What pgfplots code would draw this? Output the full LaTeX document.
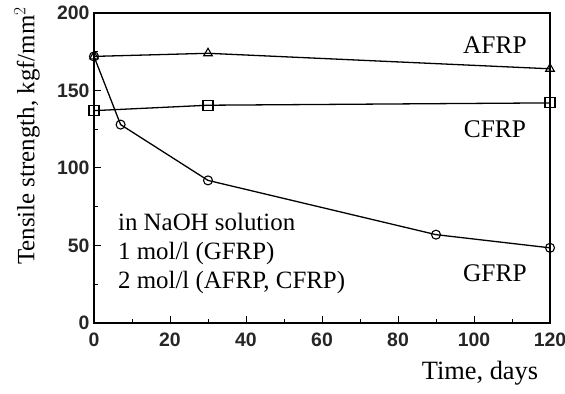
\documentclass[border=0pt]{standalone}
\usepackage{fontspec}
\setmainfont{Liberation Serif}
\newfontfamily\tickfont{Liberation Sans}
\usepackage{pgfplots}
\pgfplotsset{compat=1.18}
\begin{document}
\begin{tikzpicture}
\useasboundingbox (0,0) rectangle (565bp,394bp);
\begin{axis}[
  at={(94bp,71bp)}, anchor=south west,
  scale only axis, width=456bp, height=310bp,
  xmin=0, xmax=120, ymin=0, ymax=200,
  xtick={0,20,...,120}, ytick={0,50,...,200},
  minor xtick={10,30,...,110}, minor ytick={25,75,...,175},
  tick align=inside, xtick pos=bottom, ytick pos=left,
  major tick length=7bp, minor tick length=4bp,
  every tick/.style={black, line width=1pt},
  axis line style={line width=1.6pt},
  /pgf/number format/assume math mode=true,
  ticklabel style={font=\tickfont\bfseries\fontsize{19.5}{19.5}\selectfont, text=black!85},
  yticklabel style={xshift=-1bp},
  xticklabel style={yshift=-6bp},
  every axis plot/.style={black, line width=1.3pt, mark size=5bp, mark options={solid, fill=white, line width=1.1pt}},
  clip=false,
]
\addplot[mark=triangle] coordinates {(0,172) (30,174) (120,164)};
\addplot[mark=square, mark size=5bp] coordinates {(0,137) (30,140.5) (120,142)};
\addplot[mark=o, mark size=4.5bp] coordinates {(0,172) (7,128) (30,92) (90,57) (120,48.5)};
\node[font=\fontsize{25.5}{25.5}\selectfont, anchor=center] at (axis cs:105.5,179) {AFRP};
\node[font=\fontsize{25.5}{25.5}\selectfont, anchor=center] at (axis cs:105.5,125) {CFRP};
\node[font=\fontsize{25.5}{25.5}\selectfont, anchor=center] at (axis cs:105.5,32) {GFRP};
\node[font=\fontsize{25}{29}\selectfont, anchor=north west, align=left, inner sep=0pt] at (axis cs:6.3,71) {in NaOH solution\\1 mol/l (GFRP)\\2 mol/l (AFRP, CFRP)};
\end{axis}
\node[rotate=90, font=\fontsize{25}{25}\selectfont] at (27bp,258bp) {Tensile strength, kgf/mm$^2$};
\node[font=\fontsize{26.5}{26.5}\selectfont] at (480bp,21bp) {Time, days};
\end{tikzpicture}
\end{document}
